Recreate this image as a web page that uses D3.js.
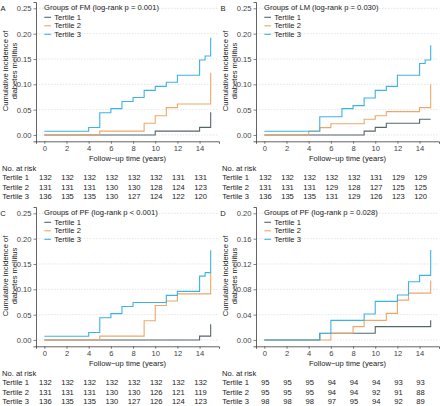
<!DOCTYPE html>
<html><head><meta charset="utf-8">
<script src="https://cdn.jsdelivr.net/npm/d3@7"></script>
<style>body{margin:0;background:#fff}svg{display:block;font-family:"Liberation Sans",Arial,sans-serif}</style>
</head><body><svg id="c" width="440" height="406"></svg>
<script>
// ---- data ----
const groups = ["Tertile 1", "Tertile 2", "Tertile 3"];
const riskTimes = [0, 2, 4, 6, 8, 10, 12, 14];
const yTicksA = [0, 0.05, 0.10, 0.15, 0.20, 0.25];
const yTicksD = [0, 0.04, 0.08, 0.12, 0.16, 0.20];

// [time, cumulative incidence]
const fmT1 = [[0,0],[10,0.0076],[14,0.015],[15,0.045]];
const fmT2 = [[0,0],[5,0.0076],[9,0.023],[10,0.038],[11,0.054],[12,0.061],[15,0.123]];
const fmT3 = [[0,0.0074],[4,0.0147],[5,0.044],[6,0.052],[7,0.066],[8,0.074],[9,0.088],[10,0.096],[11,0.104],[12,0.118],[14,0.148],[14.5,0.156],[15,0.192]];

const lmT1 = [[0,0],[9,0.0076],[10,0.015],[11,0.023],[14,0.031],[15,0.031]];
const lmT2 = [[0,0],[4,0.0076],[5,0.0145],[6,0.022],[9,0.031],[10,0.038],[11,0.046],[14,0.054],[15,0.100]];
const lmT3 = [[0,0.0074],[5,0.036],[7,0.052],[8,0.058],[9,0.073],[10,0.088],[11,0.096],[12,0.118],[14,0.141],[14.5,0.148],[15,0.177]];

const pfT1 = [[0,0],[14,0.0076],[15,0.031]];
const pfT2 = [[0,0],[5,0.0076],[9,0.038],[10,0.068],[11,0.077],[12,0.091],[15,0.132]];
const pfT3 = [[0,0.0074],[4,0.0147],[5,0.044],[6,0.052],[7,0.066],[8,0.074],[11,0.088],[12,0.096],[14,0.126],[14.5,0.133],[15,0.177]];

const pf2T1 = [[0,0],[5,0.0105],[10,0.021],[15,0.031]];
const pf2T2 = [[0,0],[6,0.0105],[8,0.021],[9,0.031],[11,0.042],[12,0.063],[13,0.074],[15,0.094]];
const pf2T3 = [[0,0],[5,0.0102],[6,0.031],[9,0.041],[10,0.061],[12,0.071],[13,0.092],[14,0.102],[15,0.142]];

const riskFM = [[132,132,132,132,132,132,131,131],[131,131,131,130,130,128,124,123],[136,135,135,130,127,124,122,120]];
const riskLM = [[132,132,132,132,132,131,129,129],[131,131,131,129,128,127,125,125],[136,135,135,131,129,126,123,120]];
const riskPF = [[132,132,132,132,132,132,132,132],[131,131,131,130,130,126,121,119],[136,135,135,130,127,126,124,123]];
const riskPF2 = [[95,95,95,94,94,94,93,93],[95,95,95,94,94,92,91,88],[98,98,98,97,95,94,92,89]];

const colors = ["#56676c", "#eda769", "#3cb4e2"];

const panels = [
  {label:"A", title:"Groups of FM (log-rank p = 0.001)", series:[fmT1,fmT2,fmT3], risk:riskFM, ticks:yTicksA, ymax:0.25, ox:0, oy:0},
  {label:"B", title:"Groups of LM (log-rank p = 0.030)", series:[lmT1,lmT2,lmT3], risk:riskLM, ticks:yTicksA, ymax:0.25, ox:220, oy:0},
  {label:"C", title:"Groups of PF (log-rank p < 0.001)", series:[pfT1,pfT2,pfT3], risk:riskPF, ticks:yTicksA, ymax:0.25, ox:0, oy:205},
  {label:"D", title:"Groups of PF (log-rank p = 0.028)", series:[pf2T1,pf2T2,pf2T3], risk:riskPF2, ticks:yTicksD, ymax:0.20, ox:220, oy:205}
];

const svg = d3.select("#c");
const FS = 7.6;

panels.forEach(p => {
  const g = svg.append("g");
  const x = d3.scaleLinear().domain([-0.75, 15.75]).range([p.ox + 36, p.ox + 219]);
  const pad = p.ymax * 0.05;
  const y = d3.scaleLinear().domain([-pad, p.ymax + pad]).range([p.oy + 141.3, p.oy + 2]);

  // gridlines
  g.selectAll("line.grid").data(p.ticks).enter().append("line")
    .attr("x1", x.range()[0]).attr("x2", x.range()[1])
    .attr("y1", d => y(d)).attr("y2", d => y(d))
    .attr("stroke", "#d4d4d4").attr("stroke-width", 0.6).attr("stroke-dasharray", "1.5,1.5");

  // axes
  const yAxis = d3.axisLeft(y).tickValues(p.ticks).tickFormat(d3.format(".2f")).tickSize(2.5).tickPadding(2);
  const ya = g.append("g").attr("transform", `translate(${x.range()[0]},0)`).call(yAxis);
  const xAxis = d3.axisBottom(x).tickValues(d3.range(0, 15, 2)).tickSize(2.5).tickPadding(2);
  const xa = g.append("g").attr("transform", `translate(0,${y.range()[0]})`).call(xAxis);
  [ya, xa].forEach(a => {
    a.select(".domain").attr("stroke", "#222").attr("stroke-width", 0.7);
    a.selectAll(".tick line").attr("stroke", "#333").attr("stroke-width", 0.6);
    a.selectAll("text").attr("font-size", FS).attr("fill", "#444").attr("font-family", "Liberation Sans, Arial, sans-serif");
  });

  // curves
  const line = d3.line().x(d => x(d[0])).y(d => y(d[1])).curve(d3.curveStepAfter);
  p.series.forEach((s, i) => {
    g.append("path").datum(s).attr("d", line).attr("fill", "none")
      .attr("stroke", colors[i]).attr("stroke-width", 1.1);
  });

  // panel label
  g.append("text").attr("x", p.ox + 3).attr("y", p.oy + 8.3).attr("dy", "0.35em")
    .attr("text-anchor", "middle").attr("font-size", FS).attr("fill", "#222").text(p.label);

  // legend
  g.append("text").attr("x", p.ox + 44).attr("y", p.oy + 7.2).attr("dy", "0.35em")
    .attr("font-size", FS).attr("fill", "#222").text(p.title);
  groups.forEach((gr, i) => {
    const cy = p.oy + 17.3 + i * 8.5;
    g.append("line").attr("x1", p.ox + 44.3).attr("x2", p.ox + 51).attr("y1", cy).attr("y2", cy)
      .attr("stroke", colors[i]).attr("stroke-width", 1.1);
    g.append("text").attr("x", p.ox + 54.3).attr("y", cy).attr("dy", "0.35em")
      .attr("font-size", FS).attr("fill", "#222").text(gr);
  });

  // y title
  const yc = p.oy + 71;
  g.append("text").attr("transform", `translate(${p.ox + 5.5},${yc}) rotate(-90)`).attr("dy", "0.35em")
    .attr("text-anchor", "middle").attr("font-size", FS).attr("fill", "#222").text("Cumulative incidence of");
  g.append("text").attr("transform", `translate(${p.ox + 14.3},${yc}) rotate(-90)`).attr("dy", "0.35em")
    .attr("text-anchor", "middle").attr("font-size", FS).attr("fill", "#222").text("diabetes mellitus");

  // x title
  g.append("text").attr("x", (x.range()[0] + x.range()[1]) / 2).attr("y", p.oy + 158.5).attr("dy", "0.35em")
    .attr("text-anchor", "middle").attr("font-size", FS).attr("fill", "#222").text("Follow\u2212up time (years)");

  // risk table
  g.append("text").attr("x", p.ox + 2).attr("y", p.oy + 168.3).attr("dy", "0.35em")
    .attr("font-size", FS).attr("fill", "#222").text("No. at risk");
  p.risk.forEach((row, i) => {
    const cy = p.oy + 177.4 + i * 9.7;
    g.append("text").attr("x", p.ox + 2.3).attr("y", cy).attr("dy", "0.35em")
      .attr("font-size", FS).attr("fill", "#222").text(groups[i]);
    g.selectAll(null).data(row).enter().append("text")
      .attr("x", (d, j) => x(riskTimes[j]) + 1).attr("y", cy).attr("dy", "0.35em")
      .attr("text-anchor", "middle").attr("font-size", FS).attr("fill", "#222").text(d => d);
  });
});
</script></body></html>
